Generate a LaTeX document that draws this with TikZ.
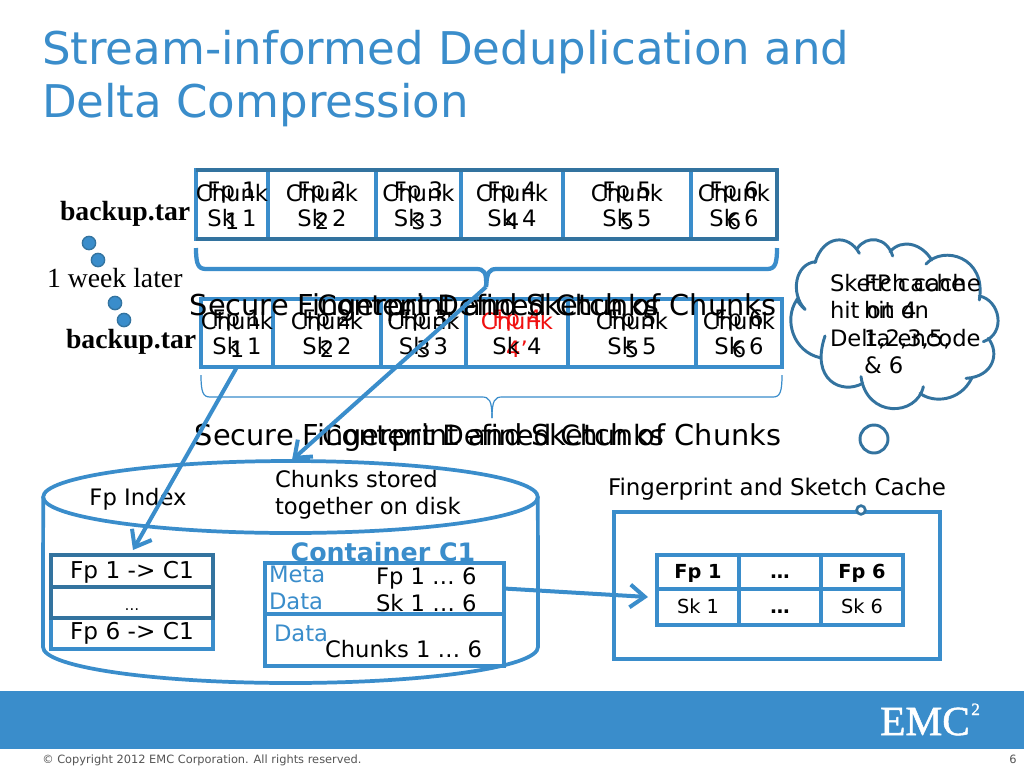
\documentclass[tikz,border=0pt]{standalone}
\usepackage{fontspec}
\usetikzlibrary{arrows.meta,shapes.geometric}
\setmainfont{DejaVu Sans}
\newfontfamily\serifb{Liberation Serif}
\newfontfamily\emcfont[FakeBold=1.2]{Liberation Serif}
\definecolor{emcblue}{HTML}{3A8DCB}
\definecolor{emcdark}{HTML}{33739F}
\definecolor{inkred}{HTML}{F01010}
\definecolor{grayfoot}{HTML}{555555}
\tikzset{
  x=0.75pt,y=-0.75pt,
  cellbox/.style={draw=emcblue,line width=2.3pt,inner sep=0pt,outer sep=0pt,rectangle},
  tx/.style={inner sep=0pt,outer sep=0pt,anchor=base,font=\fontsize{17}{20}\selectfont},
  txl/.style={tx,anchor=base west},
  big/.style={tx,font=\fontsize{21.6}{24}\selectfont},
  bigb/.style={tx,font=\fontsize{21}{24}\selectfont},
  ttl/.style={tx,anchor=base west,text=emcblue,font=\fontsize{33.8}{40}\selectfont},
  sertx/.style={inner sep=0pt,outer sep=0pt,anchor=base west,font=\serifb\fontsize{20.8}{24}\selectfont},
  arr/.style={draw=emcblue,line width=3pt,-{Straight Barb[length=11pt,width=17pt,line width=3pt]}},
  dotmark/.style={circle,fill=emcblue,draw=emcdark,line width=1pt,minimum size=10pt,inner sep=0pt},
  cloudline/.style={draw=emcdark,line width=2.2pt,line cap=round},
  thickbrace/.style={draw=emcblue,line width=3.2pt},
  thinbrace/.style={draw=emcblue,line width=0.9pt},
  cyl/.style={draw=emcblue,line width=2.8pt},
}
\newcommand{\cellat}[6][]{%
  \node[cellbox,#1,minimum width={(#4-#3)*0.75pt},minimum height={(#6-#5)*0.75pt}] (#2) at ({(#3+#4)/2},{(#5+#6)/2}) {};}
\begin{document}
\begin{tikzpicture}
\useasboundingbox (0,0) rectangle (1024,768);
\fill[white] (0,0) rectangle (1024,768);
% title
\node[ttl] (title1) at (42,64) {Stream-informed Deduplication and};
\node[ttl] (title2) at (42,117) {Delta Compression};
% top row
\cellat{t1}{196}{268}{170}{239}
\cellat{t2}{268}{376}{170}{239}
\cellat{t3}{376}{461}{170}{239}
\cellat{t4}{461}{563}{170}{239}
\cellat{t5}{563}{691}{170}{239}
\cellat{t6}{691}{777}{170}{239}
\draw[draw=emcdark,line width=2.5pt,line join=round] (t1.north west) -- (t6.north east) -- (t6.south east) -- (t1.south west);
% second row
\cellat{r1}{201}{273}{299}{367}
\cellat{r2}{273}{381}{299}{367}
\cellat{r3}{381}{466}{299}{367}
\cellat{r4}{466}{568}{299}{367}
\cellat{r5}{568}{696}{299}{367}
\cellat{r6}{696}{782}{299}{367}
% cell labels
\foreach \i/\xc in {1/232,2/322,3/418.5,4/512,5/627,6/734}{
  \node[tx] (tca\i) at (\xc,201) {Chunk};
  \node[tx] (tcb\i) at (\xc,229) {\i};
  \node[tx] (tfa\i) at (\xc,198) {Fp \i};
  \node[tx] (tfb\i) at (\xc,226) {Sk \i};
}
\foreach \i/\xc in {1/237,2/327,3/423.5,5/632,6/739}{
  \node[tx] (rca\i) at (\xc,329) {Chunk};
  \node[tx] (rcb\i) at (\xc,357) {\i};
  \node[tx] (rfa\i) at (\xc,326) {Fp \i};
  \node[tx] (rfb\i) at (\xc,354) {Sk \i};
}
\node[tx,text=inkred] (rca4) at (517,329) {Chunk};
\node[tx,text=inkred] (rcb4) at (517,357) {4’};
\node[tx,text=inkred] (rfa4) at (517,326) {Fp 4};
\node[tx] (rfb4) at (517,354) {Sk 4};
% side labels
\node[sertx,font=\serifb\bfseries\fontsize{20.8}{24}\selectfont] (bk1) at (60,220) {backup.tar};
\node[sertx,font=\serifb\bfseries\fontsize{20.8}{24}\selectfont] (bk2) at (66,348) {backup.tar};
\node[sertx] (wk) at (47,287) {1 week later};
\node[dotmark] (d1) at (89,243) {};
\node[dotmark] (d2) at (98,260) {};
\node[dotmark] (d3) at (115,303) {};
\node[dotmark] (d4) at (124,320) {};
% braces
\coordinate (tipA) at (486,287);
\coordinate (tipB) at (492,418);
\draw[thickbrace] (t1.south west |- 0,248) .. controls (196,264) and (198,269) .. (206,269) -- (476,269) .. controls (484,269) and (487,272) .. (tipA);
\draw[thickbrace] (t6.south east |- 0,248) .. controls (777,264) and (775,269) .. (767,269) -- (497,269) .. controls (489,269) and (487,272) .. (tipA);
\draw[thinbrace] (r1.south west |- 0,375) .. controls (201,392) and (203,397) .. (210,397) -- (482,397) .. controls (489,397) and (492,400) .. (tipB);
\draw[thinbrace] (r6.south east |- 0,375) .. controls (782,392) and (780,397) .. (773,397) -- (502,397) .. controls (495,397) and (492,400) .. (tipB);
% overlaid captions
\node[big] (cap1) at (483,315) {Secure Fingerprint and Sketch of Chunks};
\node[bigb] (cap2) at (488,315) {Content Defined Chunks};
\node[big] (cap3) at (488,445) {Secure Fingerprint and Sketch of Chunks};
\node[bigb] (cap4) at (493,445) {Content Defined Chunks};
% cylinder
\node[draw=emcblue,line width=2.8pt,ellipse,inner sep=0pt,outer sep=0pt,minimum width=371pt,minimum height=54pt] (top) at (290.5,497) {};
\draw[cyl] (top.west) -- (43,647) .. controls (43,667) and (154,683) .. (290.5,683) .. controls (427,683) and (538,667) .. (538,647) -- (top.east);
\node[tx] (fpidx) at (138,505) {Fp Index};
\node[txl] (st1) at (275,487) {Chunks stored};
\node[txl] (st2) at (275,514) {together on disk};
% fp table
\cellat[draw=emcblue]{f3}{51}{213}{618}{649}
\cellat[draw=emcdark]{f1}{51}{213}{555}{587}
\cellat[draw=emcdark]{f2}{51}{213}{587}{618}
\node[tx,font=\fontsize{17.4}{20}\selectfont] (f1t) at (f1 |- 0,578) {Fp 1 -> C1};
\node[tx,font=\fontsize{11}{14}\selectfont] (f2t) at (f2 |- 0,610) {…};
\node[tx,font=\fontsize{17.4}{20}\selectfont] (f3t) at (f3 |- 0,639) {Fp 6 -> C1};
% container
\node[tx,font=\bfseries\fontsize{19}{20}\selectfont,text=emcblue] (cname) at (383,561) {Container C1};
\cellat{cmeta}{265}{504}{563}{614}
\cellat{cdata}{265}{504}{614}{666}
\node[txl,text=emcblue] (m1) at (269,582) {Meta};
\node[txl,text=emcblue] (m2) at (269,609) {Data};
\node[txl,text=emcblue] (m3) at (274,641) {Data};
\node[txl] (c1) at (376,584) {Fp 1 … 6};
\node[txl] (c2) at (376,611) {Sk 1 … 6};
\node[txl] (c3) at (325,657) {Chunks 1 … 6};
% cache
\node[tx,font=\fontsize{17.2}{20}\selectfont] (cachet) at (777,495) {Fingerprint and Sketch Cache};
\cellat{cbox}{614}{940}{512}{659}
\node[circle,draw=emcdark,fill=white,line width=2pt,minimum size=6.5pt,inner sep=0pt] (knob) at (861,510) {};
\cellat{k1}{657}{739}{555}{589}
\cellat{k2}{739}{821}{555}{589}
\cellat{k3}{821}{903}{555}{589}
\cellat{k4}{657}{739}{589}{625}
\cellat{k5}{739}{821}{589}{625}
\cellat{k6}{821}{903}{589}{625}
\tikzset{small/.style={tx,font=\fontsize{14.5}{18}\selectfont},smallb/.style={tx,font=\bfseries\fontsize{14.5}{18}\selectfont}}
\node[smallb] (k1t) at (k1 |- 0,578) {Fp 1};
\node[smallb] (k2t) at (k2 |- 0,578) {…};
\node[smallb] (k3t) at (k3 |- 0,578) {Fp 6};
\node[small] (k4t) at (k4 |- 0,613) {Sk 1};
\node[smallb] (k5t) at (k5 |- 0,613) {…};
\node[small] (k6t) at (k6 |- 0,613) {Sk 6};
% arrows
\coordinate (arrA) at (133,550);
\coordinate (arrB) at (292,460);
\coordinate (arrC) at (648,597);
\draw[arr] (r1.south) -- (arrA);
\draw[arr] (tipA) -- (arrB);
\draw[arr] (cmeta.east) -- (arrC);
% cloud
\begin{scope}[shift={(780,220)},x=0.25pt,y=-0.25pt]
\draw[cloudline] (105,128) .. controls (130,45) and (205,40) .. (238,100);
\draw[cloudline] (232,85) .. controls (260,45) and (320,50) .. (338,108);
\draw[cloudline] (330,95) .. controls (365,55) and (425,70) .. (455,120);
\draw[cloudline] (438,132) .. controls (490,75) and (620,110) .. (598,240);
\draw[cloudline] (598,228) .. controls (660,240) and (680,340) .. (610,365);
\draw[cloudline] (625,355) .. controls (660,400) and (640,470) .. (558,475);
\draw[cloudline] (575,475) .. controls (540,545) and (460,550) .. (420,520);
\draw[cloudline] (430,500) .. controls (410,590) and (260,595) .. (243,470);
\draw[cloudline] (248,490) .. controls (185,525) and (90,480) .. (135,348);
\draw[cloudline] (120,413) .. controls (40,395) and (10,300) .. (50,240) .. controls (58,250) and (65,260) .. (75,268);
\draw[cloudline] (75,268) .. controls (30,220) and (45,130) .. (108,125);
\end{scope}
\node[txl] (sk1) at (830,291) {Sketch cache};
\node[txl] (sk2) at (830,318) {hit on 4};
\node[txl] (sk3) at (830,346) {Delta encode};
\node[txl] (fp1) at (864,291) {FP cache};
\node[txl] (fp2) at (864,318) {hit on};
\node[txl] (fp3) at (864,346) {1,2,3,5,};
\node[txl] (fp4) at (864,373) {\& 6};
\node[circle,draw=emcdark,line width=2.2pt,minimum size=21pt,inner sep=0pt] (bub) at (874,439) {};
% footer
\fill[emcblue] (0,691) rectangle (1024,749);
\node[inner sep=0pt,anchor=base west,text=white,font=\emcfont\fontsize{31}{34}\selectfont] (emc) at (880,735) {EMC};
\node[inner sep=0pt,anchor=base west,text=white,font=\emcfont\fontsize{13}{14}\selectfont] (emc2) at (971,715) {2};
\node[inner sep=0pt,anchor=base west,text=grayfoot,font=\fontsize{8.55}{10}\selectfont] (copy) at (42,763) {© Copyright 2012 EMC Corporation. All rights reserved.};
\node[inner sep=0pt,anchor=base east,text=grayfoot,font=\fontsize{8.55}{10}\selectfont] (pg) at (1017,763) {6};
\end{tikzpicture}
\end{document}
